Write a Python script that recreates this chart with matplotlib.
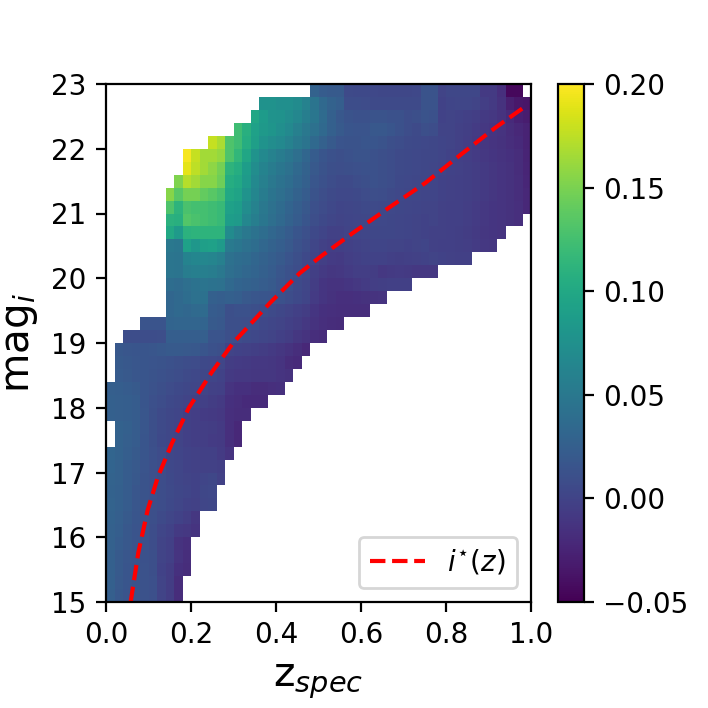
import numpy as np
import matplotlib
matplotlib.use("Agg")
import matplotlib.pyplot as plt

# Bin edges
z_edges = np.linspace(0.0, 1.0, 51)
mag_edges = np.linspace(15.0, 23.0, 41)

# First filled z-bin for each magnitude row (bottom to top)
row_starts = [0, 0, 0, 0, 0, 0, 0, 0, 0, 0, 0, 0, 1, 1, 0, 0, 0, 1, 1, 1,
              2, 4, 7, 7, 7, 7, 7, 7, 7, 7, 7, 7, 8, 9, 9, 12, 15, 17, 18, 24]

# Cell values per row in thousandths, bottom row first
row_values = [
    [25,18,15,14,13,11,0,-6,-18],
    [26,19,16,14,13,11,0,-6,-18],
    [26,20,16,14,13,10,-1,-6,-15,-18],
    [26,20,17,15,12,10,0,-3,-12,-17],
    [27,22,18,15,12,8,0,-3,-13,-16],
    [27,24,18,15,12,8,2,-1,-8,-9,-12],
    [28,25,20,16,12,10,6,2,-1,-5,-10],
    [29,26,22,17,14,10,8,5,2,-1,-2,2,3],
    [28,26,22,17,14,11,8,6,3,1,-1,3,4],
    [29,27,22,18,14,11,8,5,2,0,-1,1,3,-2],
    [30,27,22,19,15,11,8,4,2,-1,-2,-2,-2,-4],
    [31,28,24,20,16,11,7,3,1,-1,-2,-3,-3,-7,-12],
    [28,25,22,16,10,5,3,0,-3,-5,-5,-7,-8,-16,-22],
    [28,26,22,17,10,6,3,0,-3,-5,-5,-6,-8,-16,-22],
    [26,25,24,22,17,10,6,3,1,-3,-5,-7,-8,-9,-16,-18,-18],
    [26,25,24,22,16,11,8,5,3,0,-2,-3,-6,-8,-15,-17,-20,-20,-20],
    [25,24,22,20,16,13,10,7,5,3,2,0,-2,-3,-12,-15,-15,-18,-18,-16,-15],
    [21,19,17,16,14,12,10,8,6,4,3,1,-1,-8,-9,-9,-10,-10,-10,-12,-14],
    [20,18,17,16,15,14,12,10,8,7,5,4,2,-6,-7,-8,-9,-9,-10,-12,-18,-20],
    [18,17,16,16,17,18,20,20,19,18,16,12,10,0,-1,-2,-4,-6,-8,-10,-13,-17,-22],
    [8,8,8,8,9,24,24,24,24,25,15,15,10,8,6,4,2,0,-3,-6,-10,-13,-17,-19],
    [15,15,15,30,31,31,31,30,20,18,10,10,9,7,4,2,0,-3,-6,-9,-13,-16,-18,-19],
    [32,34,33,35,36,22,20,10,12,12,10,8,6,3,0,-3,-6,-11,-15,-16,-17,-17,-17,-17],
    [32,34,38,42,43,26,24,26,24,19,17,16,15,12,8,5,1,-7,-11,-14,-16,-16,-15,-14,-13,-12],
    [38,36,40,44,46,44,42,34,30,28,26,23,20,15,11,6,2,-6,-11,-13,-13,-11,-9,-7,-5,-4,-3,-3,-3],
    [47,46,55,57,57,55,50,40,36,33,30,26,22,17,12,8,4,-4,-8,-10,-9,-7,-5,-5,-6,-9,-8,-7,-8,-9,-9,-9],
    [47,46,62,65,66,64,58,42,38,36,32,28,24,20,15,10,5,0,-4,-7,-8,-5,-3,-1,-1,-1,-3,-4,-3,-2,-1,0,-1,-2,-3,-3],
    [50,48,92,82,90,92,85,52,48,42,38,33,28,24,19,13,8,2,-2,-5,-4,-3,-1,0,1,1,0,0,-1,0,1,-2,-3,-3,-4,-5,-7,-9,-10],
    [100,85,110,112,112,112,112,70,58,50,44,38,33,28,22,16,11,5,1,-2,-2,0,1,2,3,3,3,2,1,0,-1,-2,-2,-3,-4,-6,-8,-10,-11,-12],
    [110,108,132,128,125,122,118,88,85,66,56,48,40,34,28,22,16,9,5,2,0,1,2,3,4,4,3,2,1,0,-1,0,-2,-3,-3,-5,-7,-9,-11,-12,-14,-16],
    [130,112,128,125,125,122,118,92,88,72,60,50,42,36,30,24,18,11,7,4,1,2,3,5,6,5,4,3,2,1,0,0,-2,-3,-3,-5,-7,-9,-11,-12,-14,-16,-22],
    [155,135,148,148,140,135,128,100,95,78,65,54,46,40,34,28,22,14,9,6,4,4,5,7,9,8,6,4,3,2,1,1,-1,-2,-3,-4,-6,-8,-10,-12,-14,-17,-22],
    [152,172,165,155,155,145,105,100,85,68,58,50,44,38,32,26,17,12,8,6,6,8,10,12,10,8,5,4,3,2,1,-1,-2,-3,-4,-6,-8,-10,-12,-14,-17,-23],
    [190,175,165,158,148,112,105,88,72,62,54,48,42,34,28,19,14,10,9,10,11,12,12,10,8,6,5,4,3,2,0,-1,-2,-4,-6,-8,-10,-12,-14,-18,-24],
    [197,178,165,165,160,130,115,98,78,68,60,54,48,40,32,22,16,12,10,12,14,14,12,10,8,6,5,4,3,3,1,-1,-3,-5,-7,-9,-11,-13,-15,-18,-25],
    [178,168,130,122,105,90,78,72,68,60,52,46,34,27,20,15,14,14,16,16,14,10,8,6,5,4,3,1,0,-2,-5,-8,-10,-12,-14,-17,-20,-26],
    [122,108,92,84,80,74,68,58,50,42,34,26,20,16,15,15,18,18,16,12,8,6,10,8,0,0,-2,-4,-7,-9,-11,-13,-18,-22,-26],
    [98,86,78,76,72,66,56,48,36,26,18,14,12,12,14,14,12,12,8,10,14,12,-1,0,-1,-3,-5,-8,-9,-13,-20,-27,-30],
    [76,76,74,74,70,60,46,34,28,24,8,8,7,6,6,6,6,6,6,14,14,-1,1,2,2,0,-5,-8,-14,-28,-34,-36],
    [28,22,20,20,6,5,5,4,3,3,3,3,4,14,14,0,3,3,3,3,-8,-8,-16,-45,-45],
]

# Red curve i*(z)
curve_z = [0.058, 0.076, 0.098, 0.122, 0.155, 0.195, 0.249, 0.299, 0.386, 0.456,
           0.504, 0.581, 0.668, 0.751, 0.833, 0.915, 0.990]
curve_mag = [15.0, 15.76, 16.42, 16.93, 17.45, 18.0, 18.55, 19.0, 19.62, 20.08,
             20.33, 20.70, 21.10, 21.47, 21.90, 22.32, 22.67]

grid = np.full((40, 50), np.nan)
for r, (s, vals) in enumerate(zip(row_starts, row_values)):
    grid[r, s:s + len(vals)] = np.array(vals) / 1000.0

fig = plt.figure(figsize=(3.54, 3.54), dpi=200)
ax = fig.add_axes([106/708, 1 - 602/708, 425/708, 518/708])
cax = fig.add_axes([558/708, 1 - 602/708, 26/708, 518/708])

mesh = ax.pcolormesh(z_edges, mag_edges, np.ma.masked_invalid(grid),
                     cmap="viridis", vmin=-0.05, vmax=0.20)
ax.plot(curve_z, curve_mag, "--", color="red", lw=1.5, label=r"$i^{\star}(z)$")
ax.set_xlim(0, 1)
ax.set_ylim(15, 23)
ax.set_xticks([0.0, 0.2, 0.4, 0.6, 0.8, 1.0])
ax.set_yticks(range(15, 24))
ax.set_xlabel(r"z$_{spec}$", fontsize=14.8, labelpad=4)
ax.set_ylabel(r"mag$_i$", fontsize=14.6, labelpad=4)
ax.legend(loc="lower right", fontsize=10)

cb = fig.colorbar(mesh, cax=cax)
cb.set_ticks([-0.05, 0.0, 0.05, 0.10, 0.15, 0.20])
cb.set_ticklabels(["\u22120.05", "0.00", "0.05", "0.10", "0.15", "0.20"])

fig.savefig("out.png", dpi=200, facecolor="white")
